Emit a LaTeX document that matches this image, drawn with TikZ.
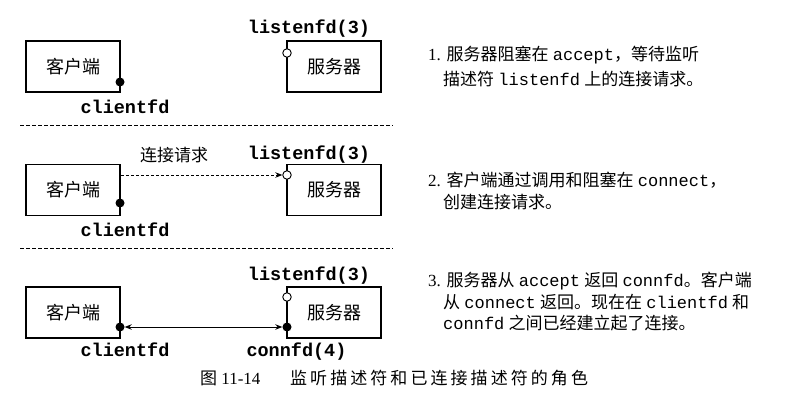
\documentclass[tikz,border=0pt]{standalone}
\usepackage{fontspec}
\setmainfont{Liberation Serif}
\setmonofont{Liberation Mono}
\newfontfamily\cjk{Noto Sans CJK SC}
\newfontfamily\capcjk[LetterSpace=18]{Noto Sans CJK SC}
\usetikzlibrary{arrows.meta}
\newcommand\cj[1]{{\cjk #1}}
\begin{document}
\begin{tikzpicture}[x=1pt,y=-1pt,
  hostbox/.style={draw,line width=1.5pt,minimum width=94pt,minimum height=51pt,inner sep=0pt,
    font=\fontsize{18}{20}\selectfont\cjk},
  fdot/.style={circle,fill=black,inner sep=0pt,minimum size=9pt},
  odot/.style={circle,draw,line width=0.9pt,fill=white,inner sep=0pt,minimum size=8.5pt},
  fdlabel/.style={anchor=base,inner sep=0pt,font=\fontsize{18.5}{20}\selectfont\ttfamily\bfseries},
  desc/.style={anchor=base west,inner sep=0pt,font=\fontsize{17}{20}\selectfont},
  sep/.style={line width=0.9pt,dash pattern=on 4pt off 2pt},
  tip/.style={-{Stealth[length=7pt,width=5.5pt]}}
]
\useasboundingbox (0,0) rectangle (787,404);

% ---------- section 1 ----------
\node[hostbox] (c1) at (73,66.5) {客户端};
\node[hostbox] (s1) at (334,66.5) {服务器};
\node[fdot] (cd1) at (120,82) {};
\node[odot] (sl1) at (287,53) {};
\node[fdlabel] (lf1) at (309,34) {listenfd(3)};
\node[fdlabel] (cf1) at (125,113) {clientfd};
\node[desc] (t1a) at (428,60) {1. \cj{服务器阻塞在} \texttt{accept}\cj{，等待监听}};
\node[desc] (t1b) at (443,85) {\cj{描述符} \texttt{listenfd} \cj{上的连接请求。}};

\coordinate (sepAl) at (20,125);
\coordinate (sepAr) at (393,125);
\draw[sep] (sepAl) -- (sepAr);

% ---------- section 2 ----------
\node[hostbox] (c2) at (73,190) {客户端};
\node[hostbox] (s2) at (334,190) {服务器};
\node[fdot] (cd2) at (120,203) {};
\node[odot] (sl2) at (287,175) {};
\node[fdlabel] (lf2) at (309,159) {listenfd(3)};
\node[fdlabel] (cf2) at (125,236) {clientfd};
\node[inner sep=0pt,font=\fontsize{17}{20}\selectfont\cjk] (req) at (174,155) {连接请求};
\coordinate (reqstart) at (121,175);
\draw[line width=0.9pt,dash pattern=on 3pt off 2pt,tip] (reqstart) -- (sl2);
\node[desc] (t2a) at (428,186) {2. \cj{客户端通过调用和阻塞在} \texttt{connect}\cj{，}};
\node[desc] (t2b) at (443,208) {\cj{创建连接请求。}};

\coordinate (sepBl) at (20,248);
\coordinate (sepBr) at (393,248);
\draw[sep] (sepBl) -- (sepBr);

% ---------- section 3 ----------
\node[hostbox] (c3) at (73,312.5) {客户端};
\node[hostbox] (s3) at (334,312.5) {服务器};
\node[fdot] (cd3) at (120,327) {};
\node[fdot] (sd3) at (287,327) {};
\node[odot] (sl3) at (287,297) {};
\node[fdlabel] (lf3) at (309,280) {listenfd(3)};
\node[fdlabel] (cf3) at (125,356) {clientfd};
\node[fdlabel] (cn3) at (296.5,356) {connfd(4)};
\draw[line width=1pt,{Stealth[length=7pt,width=5.5pt]}-{Stealth[length=7pt,width=5.5pt]}] (cd3) -- (sd3);
\node[desc] (t3a) at (428,286) {3. \cj{服务器从} \texttt{accept} \cj{返回} \texttt{connfd}\cj{。客户端}};
\node[desc] (t3b) at (443,308) {\cj{从} \texttt{connect} \cj{返回。现在在} \texttt{clientfd} \cj{和}};
\node[desc] (t3c) at (443,329) {\texttt{connfd} \cj{之间已经建立起了连接。}};

% ---------- caption ----------
\node[desc] (capA) at (200,384) {\cj{图} 11-14};
\node[desc] (capB) at (290,384) {\capcjk 监听描述符和已连接描述符的角色};
\end{tikzpicture}
\end{document}
